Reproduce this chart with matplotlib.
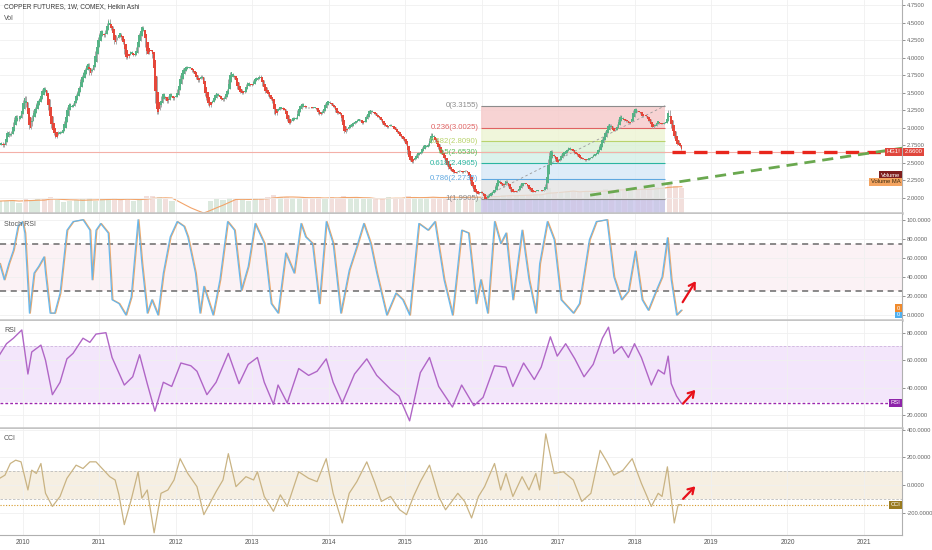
import numpy as np
import pandas as pd
import matplotlib
matplotlib.use('Agg')
import matplotlib.pyplot as plt
from matplotlib import transforms
from matplotlib.ticker import FormatStrFormatter

plt.rcParams['font.family'] = ['Liberation Sans', 'DejaVu Sans']

# weekly closes (HG1!), one per week, first week starts 2009-09-14
first_week = '2009-09-14'
close_2009 = [2.76, 2.80, 2.72, 2.78, 2.90, 2.95, 2.92, 2.88, 2.95, 3.08, 3.15, 3.18, 3.10, 3.15, 3.18, 3.30]
close_2010 = [3.40, 3.45, 3.30, 3.10,
              2.98, 3.02, 3.18, 3.25,
              3.30, 3.35, 3.40, 3.42, 3.50,
              3.55, 3.58, 3.52, 3.40,
              3.25, 3.10, 3.00, 2.95, 2.90,
              2.85, 2.90, 2.95, 2.92,
              2.95, 3.00, 3.10, 3.22,
              3.30, 3.35, 3.32, 3.30, 3.35,
              3.42, 3.48, 3.52, 3.60,
              3.70, 3.75, 3.80, 3.85,
              3.90, 3.92, 3.75, 3.80, 3.85,
              3.95, 4.10, 4.20, 4.30]
close_2011 = [4.35, 4.40, 4.35, 4.30, 4.40,
              4.50, 4.55, 4.45, 4.40,
              4.30, 4.20, 4.25, 4.30,
              4.35, 4.35, 4.25, 4.20,
              4.05, 3.98, 4.00, 4.05, 4.10,
              4.05, 4.02, 4.05, 4.15,
              4.30, 4.35, 4.42, 4.45,
              4.40, 4.15, 4.05, 4.05, 4.10,
              4.10, 4.00, 3.70, 3.35,
              3.20, 3.25, 3.30, 3.45, 3.50,
              3.45, 3.40, 3.35, 3.45,
              3.50, 3.45, 3.40, 3.45]
close_2012 = [3.45, 3.55, 3.65, 3.75, 3.80,
              3.85, 3.85, 3.88, 3.85,
              3.87, 3.85, 3.80, 3.78,
              3.75, 3.70, 3.65, 3.70, 3.75,
              3.70, 3.55, 3.45, 3.40,
              3.32, 3.30, 3.35, 3.40,
              3.45, 3.48, 3.50, 3.45, 3.42,
              3.40, 3.38, 3.45, 3.50,
              3.55, 3.70, 3.80, 3.78,
              3.75, 3.70, 3.65, 3.55, 3.52,
              3.50, 3.48, 3.50, 3.55,
              3.62, 3.65, 3.62, 3.60, 3.62]
close_2013 = [3.68, 3.70, 3.72, 3.70,
              3.75, 3.70, 3.60, 3.55,
              3.50, 3.50, 3.45, 3.42,
              3.40, 3.35, 3.20, 3.18, 3.25,
              3.28, 3.30, 3.30, 3.25,
              3.25, 3.15, 3.10, 3.05,
              3.08, 3.12, 3.15, 3.12, 3.15,
              3.25, 3.30, 3.32, 3.35,
              3.32, 3.28, 3.30, 3.28, 3.30,
              3.28, 3.28, 3.30, 3.28,
              3.25, 3.20, 3.18, 3.20,
              3.25, 3.30, 3.35, 3.38, 3.38]
close_2014 = [3.35, 3.32, 3.30, 3.28,
              3.22, 3.20, 3.22, 3.18,
              3.10, 2.98, 2.92, 2.95, 3.00,
              3.02, 3.05, 3.05, 3.08,
              3.08, 3.10, 3.12, 3.12,
              3.10, 3.05, 3.08, 3.12, 3.18,
              3.22, 3.25, 3.25, 3.22,
              3.20, 3.18, 3.15, 3.15,
              3.12, 3.10, 3.05, 3.02, 3.02,
              3.00, 3.02, 3.05, 3.02,
              3.00, 2.98, 2.95, 2.92,
              2.90, 2.88, 2.85, 2.82, 2.80]
close_2015 = [2.75, 2.62, 2.55, 2.52,
              2.50, 2.55, 2.58, 2.62,
              2.65, 2.62, 2.68, 2.72, 2.75,
              2.75, 2.72, 2.78, 2.85,
              2.92, 2.90, 2.85, 2.80,
              2.75, 2.70, 2.65, 2.62, 2.60,
              2.55, 2.50, 2.45, 2.42,
              2.40, 2.38, 2.36, 2.35, 2.36,
              2.38, 2.40, 2.38, 2.36,
              2.38, 2.40, 2.38, 2.35,
              2.28, 2.20, 2.15, 2.10, 2.08,
              2.06, 2.05, 2.08, 2.10]
close_2016 = [2.05, 2.00, 1.98, 2.00,
              2.05, 2.05, 2.08, 2.10, 2.12,
              2.18, 2.25, 2.25, 2.22,
              2.18, 2.15, 2.22, 2.25,
              2.20, 2.15, 2.10, 2.08, 2.08,
              2.10, 2.08, 2.12, 2.15,
              2.20, 2.22, 2.22, 2.20,
              2.20, 2.15, 2.12, 2.10, 2.08,
              2.08, 2.10, 2.12, 2.12,
              2.12, 2.10, 2.10, 2.12, 2.20,
              2.40, 2.55, 2.65, 2.68,
              2.62, 2.58, 2.52, 2.50]
close_2017 = [2.52, 2.58, 2.62, 2.65, 2.65,
              2.68, 2.70, 2.72, 2.70,
              2.68, 2.65, 2.62, 2.62,
              2.60, 2.58, 2.56, 2.55,
              2.55, 2.53, 2.54, 2.56, 2.57,
              2.58, 2.60, 2.62, 2.62,
              2.66, 2.70, 2.75, 2.80, 2.85,
              2.90, 2.95, 3.00, 3.05,
              3.05, 3.00, 2.95, 2.95,
              2.98, 3.05, 3.12, 3.18, 3.15,
              3.12, 3.10, 3.08, 3.10,
              3.05, 3.08, 3.18, 3.25]
close_2018 = [3.28, 3.25, 3.22, 3.22, 3.20,
              3.15, 3.18, 3.18, 3.15,
              3.10, 3.08, 3.02, 3.00,
              3.02, 3.05, 3.10, 3.08, 3.06,
              3.05, 3.06, 3.08, 3.08,
              3.18, 3.25, 3.10, 3.00,
              2.92, 2.85, 2.78, 2.75, 2.75,
              2.72, 2.68]
last_price = 2.66

# monthly average weekly volume (thousands), Sep 2009 .. Aug 2018
first_month = '2009-09-01'
volume_monthly = [230, 240, 250, 200,
                  260, 250, 270, 260, 300, 250, 220, 240, 250, 260, 280, 230,
                  260, 270, 280, 250, 270, 240, 250, 320, 330, 300, 260, 230,
                  0, 0, 0, 0, 0, 240, 260, 250, 280, 270, 260, 240,
                  280, 290, 300, 340, 300, 310, 290, 280, 300, 290, 300, 270,
                  300, 290, 330, 300, 280, 270, 280, 260, 290, 300, 290, 280,
                  320, 300, 290, 300, 310, 290, 300, 320, 290, 300, 310, 300,
                  330, 320, 330, 340, 350, 330, 340, 350, 360, 370, 480, 380,
                  400, 420, 430, 410, 420, 400, 420, 460, 450, 470, 440, 420,
                  470, 480, 460, 500, 470, 560, 520, 480]

# fibonacci retracement drawing
fib_ratios = ['0', '0.236', '0.382', '0.5', '0.618', '0.786', '1']
fib_prices = [3.3155, 3.0025, 2.8090, 2.6530, 2.4965, 2.2735, 1.9905]
fib_start, fib_end = 2015.99, 2018.40

# hand drawn lines
support_years = [2017.42, 2021.50]
support_prices = [2.04, 2.71]
level_start = 2018.49

# indicators (decimal year, value)
stoch_years = [2009.70, 2009.76, 2009.82, 2009.88, 2009.94, 2010.00, 2010.03, 2010.09, 2010.15, 2010.21,
               2010.28, 2010.30, 2010.36, 2010.42, 2010.49, 2010.58, 2010.66, 2010.79, 2010.88, 2010.91,
               2010.96, 2011.02, 2011.12, 2011.17, 2011.26, 2011.35, 2011.42, 2011.51, 2011.56, 2011.63,
               2011.69, 2011.77, 2011.84, 2011.93, 2012.02, 2012.11, 2012.16, 2012.26, 2012.32, 2012.37,
               2012.49, 2012.58, 2012.68, 2012.77, 2012.86, 2012.95, 2013.04, 2013.16, 2013.25, 2013.34,
               2013.44, 2013.55, 2013.64, 2013.70, 2013.79, 2013.88, 2013.97, 2014.06, 2014.16, 2014.27,
               2014.37, 2014.46, 2014.55, 2014.63, 2014.76, 2014.88, 2014.97, 2015.06, 2015.18, 2015.30,
               2015.39, 2015.51, 2015.62, 2015.74, 2015.83, 2015.93, 2015.99, 2016.08, 2016.17, 2016.25,
               2016.32, 2016.41, 2016.53, 2016.62, 2016.71, 2016.76, 2016.86, 2016.95, 2017.04, 2017.20,
               2017.28, 2017.41, 2017.50, 2017.64, 2017.73, 2017.83, 2017.92, 2018.01, 2018.10, 2018.18,
               2018.27, 2018.36, 2018.43, 2018.48, 2018.55, 2018.61]
stoch_k = [54, 37, 54, 68, 93, 98, 86, 2, 44, 51,
           61, 44, 2, 2, 23, 89, 98, 100, 89, 37,
           89, 96, 86, 16, 12, 0, 19, 100, 54, 2,
           16, 0, 44, 82, 98, 93, 82, 44, 2, 30,
           0, 37, 98, 89, 26, 51, 96, 75, 12, 2,
           65, 44, 96, 82, 75, 12, 98, 75, 2, 47,
           72, 96, 75, 44, 0, 23, 16, 0, 96, 89,
           98, 37, 0, 89, 86, 12, 37, 2, 98, 75,
           86, 16, 89, 37, 2, 54, 98, 79, 16, 2,
           12, 79, 98, 100, 40, 16, 25, 67, 16, 5,
           23, 40, 81, 37, 0, 5]
stoch_d_lag = 0.6 / 52.0
stoch_bands = [25, 75]

rsi_years = [2009.70, 2009.79, 2009.88, 2009.99, 2010.07, 2010.12, 2010.24, 2010.30, 2010.39, 2010.49,
             2010.58, 2010.66, 2010.79, 2010.88, 2010.96, 2011.09, 2011.17, 2011.33, 2011.44, 2011.53,
             2011.63, 2011.73, 2011.84, 2011.95, 2012.07, 2012.20, 2012.28, 2012.41, 2012.53, 2012.69,
             2012.83, 2012.95, 2013.07, 2013.16, 2013.28, 2013.34, 2013.46, 2013.61, 2013.74, 2013.85,
             2013.97, 2014.06, 2014.18, 2014.34, 2014.50, 2014.63, 2014.81, 2014.92, 2015.06, 2015.20,
             2015.32, 2015.44, 2015.62, 2015.74, 2015.90, 2016.02, 2016.17, 2016.32, 2016.41, 2016.55,
             2016.69, 2016.78, 2016.90, 2016.99, 2017.10, 2017.22, 2017.34, 2017.46, 2017.58, 2017.66,
             2017.73, 2017.83, 2017.92, 2018.00, 2018.09, 2018.22, 2018.31, 2018.39, 2018.44, 2018.48,
             2018.55, 2018.61]
rsi_vals = [64, 72, 76, 82, 50, 66, 71, 60, 35, 44,
            61, 65, 76, 73, 79, 80, 62, 42, 48, 64,
            43, 23, 44, 41, 58, 56, 52, 35, 44, 65,
            43, 57, 62, 44, 28, 42, 29, 54, 49, 52,
            61, 44, 29, 50, 61, 49, 39, 34, 16, 51,
            62, 41, 26, 42, 27, 33, 56, 55, 41, 58,
            46, 55, 77, 63, 72, 61, 48, 57, 76, 84,
            65, 70, 62, 72, 62, 42, 53, 50, 63, 43,
            34, 29]
rsi_bands = [30, 70]

cci_years = [2009.70, 2009.77, 2009.84, 2009.91, 2009.98, 2010.07, 2010.12, 2010.18, 2010.24, 2010.30,
             2010.39, 2010.49, 2010.58, 2010.70, 2010.79, 2010.88, 2010.96, 2011.02, 2011.14, 2011.21,
             2011.26, 2011.33, 2011.42, 2011.51, 2011.56, 2011.63, 2011.72, 2011.81, 2011.90, 2011.98,
             2012.06, 2012.16, 2012.28, 2012.37, 2012.53, 2012.62, 2012.69, 2012.79, 2012.92, 2013.02,
             2013.07, 2013.16, 2013.28, 2013.37, 2013.46, 2013.61, 2013.74, 2013.85, 2013.97, 2014.06,
             2014.18, 2014.27, 2014.37, 2014.50, 2014.60, 2014.69, 2014.81, 2014.93, 2015.02, 2015.11,
             2015.20, 2015.32, 2015.44, 2015.53, 2015.69, 2015.78, 2015.87, 2015.96, 2016.04, 2016.17,
             2016.25, 2016.32, 2016.41, 2016.53, 2016.62, 2016.71, 2016.76, 2016.84, 2016.95, 2017.07,
             2017.20, 2017.31, 2017.43, 2017.55, 2017.64, 2017.73, 2017.85, 2017.97, 2018.09, 2018.22,
             2018.31, 2018.36, 2018.43, 2018.52, 2018.57, 2018.61]
cci_vals = [48, 71, 155, 179, 167, -36, 107, 83, 155, -60,
            -155, -83, 48, 143, 119, 167, 167, 131, 60, 36,
            -71, -286, -107, 95, -95, -36, -345, -60, -36, 36,
            190, 83, -12, -214, -48, 36, 226, -12, 60, 36,
            95, -83, -190, -71, -155, 95, 48, 24, 190, -60,
            -274, -60, 24, 167, 24, -119, -83, -179, -214, -83,
            24, 143, -83, -179, -60, -119, -238, -83, -12, 155,
            -36, 83, -83, 60, -36, 83, -36, 369, 83, 95,
            36, -119, -60, 250, 167, 71, 107, 190, 12, -155,
            -60, -83, 131, -274, -143, -143]
cci_bands = [-100, 100]

# red arrows drawn on the oscillators (start, end)
arrow_years = [2018.61, 2018.82]
stoch_arrow = [11, 38]
rsi_arrow = [27, 40]
cci_arrow = [-115, 5]

years = list(range(2010, 2022))


def to_year(idx):
    days = np.where(idx.is_leap_year, 366.0, 365.0)
    return idx.year.values + (idx.dayofyear.values - 1) / days


weekly_close = (close_2009 + close_2010 + close_2011 + close_2012 + close_2013 +
                close_2014 + close_2015 + close_2016 + close_2017 + close_2018)
weeks = pd.date_range(first_week, periods=len(weekly_close), freq='7D')
xw = to_year(weeks)

# heikin ashi from the closes
c = np.array(weekly_close)
o = np.r_[c[0], c[:-1]]
ha_c = (o + np.maximum(o, c) + np.minimum(o, c) + c) / 4
ha_o = np.empty_like(c)
ha_o[0] = (o[0] + c[0]) / 2
for i in range(1, len(c)):
    ha_o[i] = (ha_o[i - 1] + ha_c[i - 1]) / 2
ha_h = np.maximum.reduce([o, c, ha_o, ha_c])
ha_l = np.minimum.reduce([o, c, ha_o, ha_c])

months = pd.date_range(first_month, periods=len(volume_monthly), freq='MS')
xm = to_year(months + pd.Timedelta(days=14))
vol = pd.Series(volume_monthly, dtype=float)
vol_ma = vol.rolling(5, min_periods=1).mean()
month_close = pd.Series(weekly_close, index=weeks).resample('MS').last().reindex(months).ffill()
vol_up = month_close.diff().fillna(0).values >= 0

W, H = 932, 550
XMIN, XMAX = 2009.705, 2021.497
fig = plt.figure(figsize=(W / 100, H / 100), dpi=100)
fig.patch.set_facecolor('white')


def panel(top, bottom):
    return fig.add_axes([0, 1 - bottom / H, 902 / W, (bottom - top) / H])


ax_p = panel(0, 213)
ax_s = panel(214, 320)
ax_r = panel(321, 428)
ax_c = panel(429, 535)
axes = [ax_p, ax_s, ax_r, ax_c]

# volume sits on a hidden twin axis behind the candles
vax = ax_p.twinx()
vax.set_ylim(0, 4100)
vax.axis('off')
vax.set_zorder(ax_p.get_zorder() - 1)
ax_p.patch.set_visible(False)

for ax in axes:
    ax.set_xlim(XMIN, XMAX)
    ax.set_xticks(years)
    ax.yaxis.tick_right()
    ax.tick_params(axis='y', labelsize=4.2, colors='#666666', length=2, width=0.5, pad=1.5)
    ax.tick_params(axis='x', length=0, labelbottom=False)
    ax.grid(True, color='#f0f0f0', lw=0.6, zorder=0)
    ax.set_axisbelow(True)
    ax.spines['left'].set_visible(False)
    ax.spines['top'].set_visible(False)
    ax.spines['right'].set_color('#b0b0b0')
    ax.spines['right'].set_linewidth(0.8)
    ax.spines['bottom'].set_color('#c4c4c4')
    ax.spines['bottom'].set_linewidth(1.8)
    ax.yaxis.set_major_formatter(FormatStrFormatter('%.4f'))
vax.set_xlim(XMIN, XMAX)

ax_c.spines['bottom'].set_linewidth(0.8)
ax_c.spines['bottom'].set_color('#b0b0b0')
ax_c.tick_params(axis='x', labelbottom=True, labelsize=4.8, colors='#555555', pad=3)
ax_c.set_xticklabels([str(y) for y in years])

# ---- price panel
ax_p.set_ylim(1.786, 4.821)
ax_p.set_yticks(np.arange(2.0, 4.76, 0.25))

vax.bar(xm, vol, width=0.8 / 12, color=np.where(vol_up, '#dce9de', '#f2dfdc'), lw=0)
vax.plot(xm, vol_ma, color='#f2a46a', lw=0.8)

fib_line_colors = ['#8c8c8c', '#e06262', '#b9d36c', '#5cbf5c', '#2bb5a0', '#5fa8e0', '#8c8c8c']
fib_fill_colors = ['#f6c9c9', '#edf4d2', '#daf1d5', '#d2efe6', '#d6e8f7', '#e4e4e4']
for i in range(len(fib_prices) - 1):
    ax_p.fill_between([fib_start, fib_end], fib_prices[i], fib_prices[i + 1],
                      color=fib_fill_colors[i], alpha=0.8, lw=0, zorder=1)
ax_p.fill_between([fib_start, fib_end], fib_prices[-1], 1.786, color='#c8c4ea', alpha=0.8, lw=0, zorder=1)
ax_p.hlines(fib_prices, fib_start, fib_end, colors=fib_line_colors, lw=0.8, zorder=2)
for r, p, col in zip(fib_ratios, fib_prices, fib_line_colors):
    ax_p.text(fib_start - 0.03, p, f'{r}({p:.4f})', ha='right', va='center', fontsize=5.6, color=col, zorder=6)
ax_p.plot([fib_start, fib_end], [fib_prices[-1], fib_prices[0]], color='#9a9a9a', lw=0.6,
          ls=(0, (3, 3)), zorder=2)

ax_p.axhline(last_price, color='#f4b0a8', lw=0.8, zorder=2)

wk = 1 / 52.18
up = ha_c >= ha_o
ax_p.vlines(xw, ha_l, ha_h, color='#a8a8a8', lw=0.7, zorder=3)
ax_p.bar(xw, np.maximum(np.abs(ha_c - ha_o), 0.008), bottom=np.minimum(ha_c, ha_o), width=wk * 1.05,
         color=np.where(up, '#56b386', '#e5473a'), lw=0, zorder=4)

ax_p.plot([level_start, XMAX], [last_price, last_price], color='#e8261c', lw=2.4, ls=(0, (4, 2.5)), zorder=5)
ax_p.plot(support_years, support_prices, color='#6aa84f', lw=2.0, ls=(0, (4, 2.5)), zorder=5)

fig.text(4 / W, 1 - 7 / H, 'COPPER FUTURES, 1W, COMEX, Heikin Ashi', fontsize=4.7, color='#3a3a3a',
         va='center', ha='left')
fig.text(4 / W, 1 - 19 / H, 'Vol', fontsize=5, color='#555555', va='center', ha='left')


def tag(ax, x, y, s, bg, fg='white', ha='left'):
    tr = transforms.blended_transform_factory(ax.transAxes, ax.transData)
    ax.text(x, y, s, transform=tr, ha=ha, va='center', fontsize=4.2, color=fg, clip_on=False, zorder=10,
            bbox=dict(boxstyle='square,pad=0.25', fc=bg, ec='none'))


tag(ax_p, 1.003, last_price, f'{last_price:.4f}', '#e0463c')
tag(ax_p, 0.998, last_price, 'HG1!', '#e0463c', ha='right')
tag(ax_p, 0.998, 2.327, 'Volume', '#7f1d1d', ha='right')
tag(ax_p, 0.998, 2.228, 'Volume MA', '#f4a460', fg='#3a2a10', ha='right')

# ---- stoch rsi panel
ax_s.set_ylim(-5.2, 106)
ax_s.set_yticks(np.arange(0, 101, 20))
ax_s.axhspan(stoch_bands[0], stoch_bands[1], color='#fbf2f5', lw=0, zorder=0.5)
for b in stoch_bands:
    ax_s.axhline(b, color='#6a6a6a', lw=1.1, ls=(0, (4, 3)), zorder=1)
ax_s.plot(np.array(stoch_years) + stoch_d_lag, stoch_k, color='#f0a868', lw=0.9, zorder=3)
ax_s.plot(stoch_years, stoch_k, color='#5ab4f0', lw=0.9, zorder=3, alpha=0.9)
tag(ax_s, 0.998, 1, '0', '#4fb0f0', ha='right')
tag(ax_s, 0.998, 7, '0', '#f08a2c', ha='right')
fig.text(4 / W, 1 - 224 / H, 'Stoch RSI', fontsize=5, color='#555555', va='center', ha='left')

# ---- rsi panel
ax_r.set_ylim(10.8, 88.5)
ax_r.set_yticks([20, 40, 60, 80])
ax_r.axhspan(rsi_bands[0], rsi_bands[1], color='#f3e6fb', lw=0, zorder=0.5)
ax_r.axhline(rsi_bands[1], color='#cdb4dc', lw=0.6, ls=(0, (3, 2)), zorder=1)
ax_r.axhline(rsi_vals[-1], color='#9c27b0', lw=1.0, ls=(0, (2, 1.5)), zorder=1)
ax_r.plot(rsi_years, rsi_vals, color='#b066c6', lw=1.0, zorder=3)
tag(ax_r, 0.998, rsi_vals[-1], 'RSI', '#8e24aa', ha='right')
fig.text(4 / W, 1 - 331 / H, 'RSI', fontsize=5, color='#555555', va='center', ha='left')

# ---- cci panel
ax_c.set_ylim(-361, 404)
ax_c.set_yticks([-200, 0, 200, 400])
ax_c.axhspan(cci_bands[0], cci_bands[1], color='#f6efe2', lw=0, zorder=0.5)
for b in cci_bands:
    ax_c.axhline(b, color='#bcbcbc', lw=0.6, ls=(0, (3, 2)), zorder=1)
ax_c.axhline(cci_vals[-1], color='#d59a2a', lw=0.8, ls=(0, (1, 1.5)), zorder=1)
ax_c.plot(cci_years, cci_vals, color='#c9b383', lw=0.9, zorder=3)
tag(ax_c, 0.998, cci_vals[-1], 'CCI', '#9a7b1e', ha='right')
fig.text(4 / W, 1 - 438 / H, 'CCI', fontsize=5, color='#555555', va='center', ha='left')

for ax, ys in [(ax_s, stoch_arrow), (ax_r, rsi_arrow), (ax_c, cci_arrow)]:
    ax.annotate('', xy=(arrow_years[1], ys[1]), xytext=(arrow_years[0], ys[0]),
                arrowprops=dict(arrowstyle='->,head_length=0.4,head_width=0.25', color='#e8101a', lw=1.6),
                zorder=8)

fig.savefig('out.png', dpi=100)
